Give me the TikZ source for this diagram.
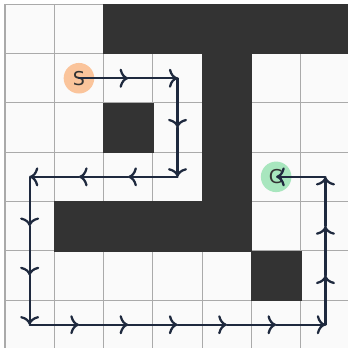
\documentclass[tikz,border=0pt]{standalone}
\usepackage{fontspec}
\setsansfont{DejaVu Sans}
\usetikzlibrary{arrows.meta}
\definecolor{MazeNavy}{RGB}{30,41,62}
\definecolor{MazeWall}{RGB}{51,51,51}
\definecolor{MazeLine}{RGB}{170,170,170}
\definecolor{MazePaper}{RGB}{250,250,250}
\definecolor{MazeStart}{RGB}{250,196,155}
\definecolor{MazeGoal}{RGB}{168,230,190}
\tikzset{
  maze/wall/.style={fill=MazeWall, draw=MazeWall, line width=0.3pt},
  maze/gridline/.style={draw=MazeLine, line width=0.6pt},
  maze/marker/.style={
    circle,
    minimum size=0.62cm,
    inner sep=0pt,
    text=MazeWall,
    font=\sffamily\fontsize{11}{12}\selectfont
  },
  maze/start/.style={maze/marker, fill=MazeStart},
  maze/goal/.style={maze/marker, fill=MazeGoal},
  maze/route/.style={-{Computer Modern Rightarrow[length=5pt,width=11pt,line width=1.3pt]},
    line width=1.3pt, draw=MazeNavy, line cap=round, line join=round}
}

\begin{document}
\begin{tikzpicture}[x=1cm,y=1cm]
  \useasboundingbox[fill=white] (-0.1014,0.028) rectangle (6.957,7.087);
  \fill[MazePaper] (0,0) rectangle (7,7);
  % grid
  \foreach \i in {0,...,7} {
    \draw[maze/gridline] (\i,0) -- (\i,7);
    \draw[maze/gridline] (0,\i) -- (7,\i);
  }
  % walls, given as row/col with row 0 at the top
  \foreach \r/\c in {0/2,0/3,0/4,0/5,0/6,1/4,2/2,2/4,3/4,4/1,4/2,4/3,4/4,5/5}
    \draw[maze/wall] (\c,6-\r) rectangle ++(1,1);
  % cell centres
  \foreach \r in {0,...,6}
    \foreach \c in {0,...,6}
      \coordinate (c-\r-\c) at (\c+0.5,6.5-\r);
  \node[maze/start] (S) at (c-1-1) {S};
  \node[maze/goal] (G) at (c-3-5) {G};
  % route from S to G
  \foreach \cur [remember=\cur as \prev (initially S.center)] in
    {c-1-2,c-1-3,c-2-3,c-3-3,c-3-2,c-3-1,c-3-0,c-4-0,c-5-0,c-6-0,
     c-6-1,c-6-2,c-6-3,c-6-4,c-6-5,c-6-6,c-5-6,c-4-6,c-3-6,G.center}
    \draw[maze/route] (\prev) -- (\cur);
\end{tikzpicture}
\end{document}
